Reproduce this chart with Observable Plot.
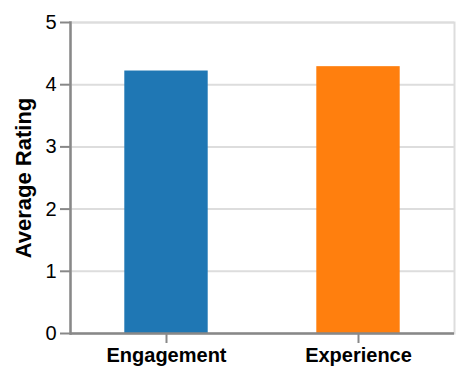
<!DOCTYPE html>
<html>
<head>
<meta charset="utf-8">
<script src="https://cdn.jsdelivr.net/npm/d3@7"></script>
<script src="https://cdn.jsdelivr.net/npm/@observablehq/plot@0.6"></script>
<style>
  html, body { margin: 0; padding: 0; background: #fff; }
  #chart svg { display: block; }
</style>
</head>
<body>
<div id="chart"></div>
<script>
const categories = ["Engagement", "Experience"];
const ratings = [4.22, 4.29];
const barColors = ["#1f77b4", "#ff7f0e"];
const yTicks = [0, 1, 2, 3, 4, 5];
const yTitle = "Average Rating";

const data = categories.map((c, i) => ({ metric: c, rating: ratings[i] }));

const chart = Plot.plot({
  width: 465,
  height: 379,
  marginLeft: 70,
  marginRight: 11,
  marginTop: 22,
  marginBottom: 46,
  style: { fontFamily: "'Liberation Sans', Arial, sans-serif", background: "#fff", color: "black" },
  x: { domain: categories, padding: 0, axis: null },
  y: { domain: [0, 5], axis: null },
  color: { domain: categories, range: barColors },
  marks: [
    Plot.gridY(yTicks, { stroke: "#ddd", strokeOpacity: 1, strokeWidth: 2 }),
    Plot.frame({ stroke: "#ddd", strokeWidth: 2 }),
    Plot.barY(data, { x: "metric", y: "rating", fill: "metric", insetLeft: 54.3, insetRight: 54.3 }),
    Plot.axisY(yTicks, {
      anchor: "left", tickSize: 10, tickPadding: 4, stroke: "#888", strokeWidth: 2,
      fill: "black", fontSize: 20, label: null, tickFormat: d3.format("d")
    }),
    Plot.axisX({
      anchor: "bottom", tickSize: 10, tickPadding: 4, stroke: "#888", strokeWidth: 2,
      fill: "black", fontSize: 20, fontWeight: "bold", label: null
    }),
    Plot.ruleY([0], { stroke: "#888", strokeWidth: 2.5 }),
    Plot.frame({ anchor: "left", stroke: "#888", strokeWidth: 2.5 }),
    Plot.text([yTitle], {
      frameAnchor: "left", rotate: -90, dx: -47, textAnchor: "middle", lineAnchor: "middle",
      fontSize: 22, fontWeight: "bold", fill: "black"
    })
  ]
});

document.getElementById("chart").appendChild(chart);
</script>
</body>
</html>
